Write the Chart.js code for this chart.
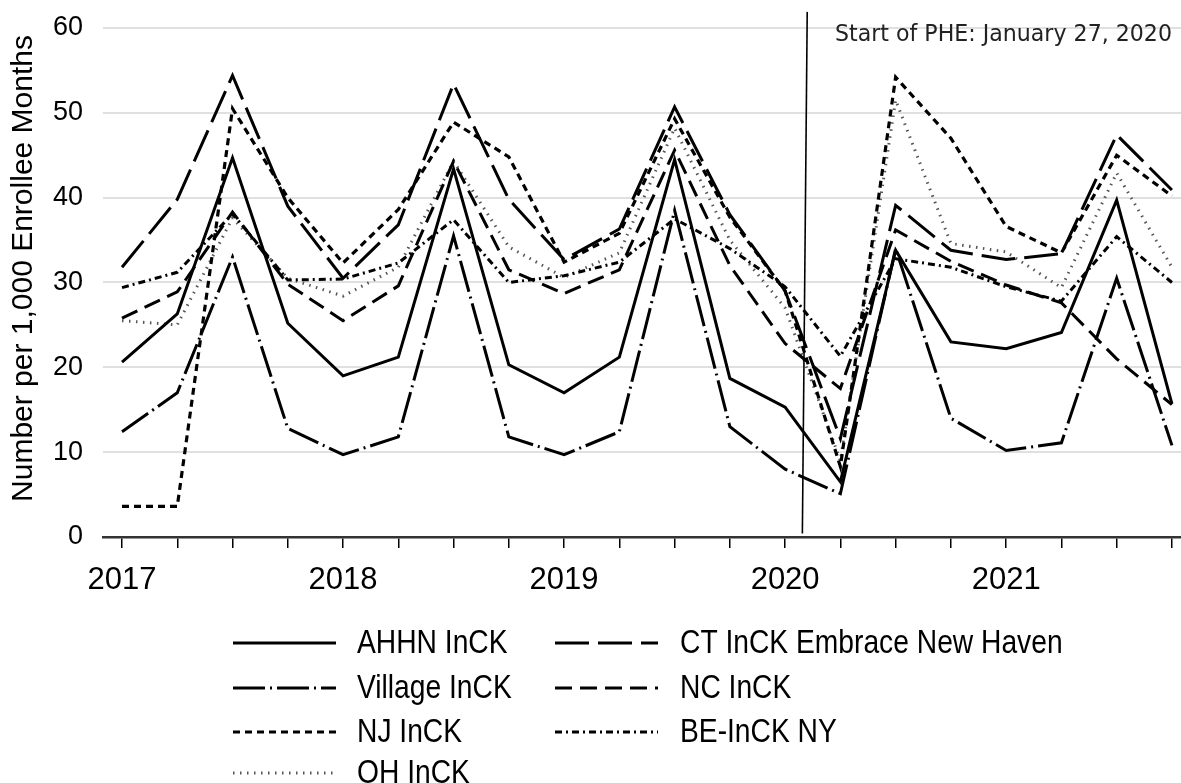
<!DOCTYPE html>
<html>
<head>
<meta charset="utf-8">
<script src="https://cdn.jsdelivr.net/npm/chart.js@4.4.1/dist/chart.umd.min.js"></script>
<style>
  html, body { margin: 0; padding: 0; background: #ffffff; }
  #wrap { position: relative; width: 1181px; height: 783px; }
</style>
</head>
<body>
<div id="wrap"><canvas id="c" width="1181" height="783"></canvas></div>
<script>
// ---- data ----
const periods = [2017.00, 2017.25, 2017.50, 2017.75, 2018.00, 2018.25, 2018.50, 2018.75,
                 2019.00, 2019.25, 2019.50, 2019.75, 2020.00, 2020.25, 2020.50, 2020.75,
                 2021.00, 2021.25, 2021.50, 2021.75];
const yearTicks = [2017, 2018, 2019, 2020, 2021];
const yTicks = [0, 10, 20, 30, 40, 50, 60];
const seriesNames = ["AHHN InCK", "CT InCK Embrace New Haven", "Village InCK", "NC InCK",
                     "NJ InCK", "BE-InCK NY", "OH InCK"];
const ahhn    = [20.6, 26.3, 44.7, 25.2, 19.0, 21.2, 43.4, 20.3, 17.0, 21.2, 44.5, 18.7, 15.3, 6.5, 33.8, 23.0, 22.2, 24.1, 39.7, 15.7];
const ct      = [31.8, 39.8, 54.4, 39.0, 30.5, 36.8, 53.4, 39.8, 32.7, 36.3, 50.7, 38.0, 29.0, 11.6, 39.1, 33.8, 32.7, 33.4, 47.4, 40.9];
const village = [12.4, 17.0, 33.0, 12.8, 9.7, 11.8, 35.5, 11.8, 9.7, 12.4, 38.5, 13.0, 8.0, 5.1, 34.0, 14.0, 10.2, 11.1, 30.5, 10.8];
const nc      = [25.8, 28.9, 38.3, 29.8, 25.5, 29.6, 44.3, 31.5, 28.7, 31.5, 45.6, 32.0, 22.8, 17.5, 36.2, 32.5, 29.7, 27.6, 21.0, 15.6];
const nj      = [3.6, 3.6, 50.5, 40.0, 32.3, 38.6, 48.9, 44.8, 32.4, 35.8, 49.3, 37.7, 29.0, 8.3, 54.2, 47.0, 36.6, 33.5, 45.0, 40.2];
const beNY    = [29.4, 31.2, 38.1, 30.3, 30.4, 32.3, 37.4, 30.0, 30.8, 32.4, 37.5, 34.0, 29.5, 21.3, 32.8, 31.8, 29.5, 27.8, 35.4, 30.0];
const oh      = [25.5, 25.0, 37.6, 30.5, 28.4, 31.8, 44.3, 34.2, 30.6, 33.5, 48.2, 35.0, 27.0, 9.0, 51.5, 34.6, 33.6, 29.4, 42.9, 31.8];
const pheDate = 2020.09;
const pheLabel = "Start of PHE: January 27, 2020";
const yTitle = "Number per 1,000 Enrollee Months";

// ---- styles ----
const styles = [
  { color: '#000', width: 3, dash: [] },
  { color: '#000', width: 3, dash: [34, 9] },
  { color: '#000', width: 3, dash: [32, 5, 2, 5] },
  { color: '#000', width: 3, dash: [17, 8] },
  { color: '#000', width: 3.2, dash: [7, 5] },
  { color: '#000', width: 3, dash: [7, 4, 2, 4] },
  { color: '#555', width: 3, dash: [1.5, 5.5] }
];
const allSeries = [ahhn, ct, village, nc, nj, beNY, oh];

const datasets = allSeries.map((vals, i) => ({
  label: seriesNames[i],
  data: vals.map((v, k) => ({ x: periods[k], y: v })),
  borderColor: styles[i].color,
  borderWidth: styles[i].width,
  borderDash: styles[i].dash,
  borderJoinStyle: 'miter',
  borderCapStyle: 'butt',
  pointRadius: 0,
  fill: false,
  tension: 0
}));

const extras = {
  id: 'extras',
  afterDatasetsDraw(chart) {
    const ctx = chart.ctx;
    const xs = chart.scales.x, ys = chart.scales.y;
    // PHE vertical line
    ctx.save();
    ctx.strokeStyle = '#000';
    ctx.lineWidth = 1.6;
    ctx.setLineDash([]);
    ctx.beginPath();
    ctx.moveTo(xs.getPixelForValue(pheDate + 0.01), ys.getPixelForValue(61.9));
    ctx.lineTo(xs.getPixelForValue(pheDate - 0.012), ys.getPixelForValue(0.4));
    ctx.stroke();
    // annotation
    ctx.fillStyle = '#222';
    ctx.font = '23px "DejaVu Sans", sans-serif';
    ctx.textAlign = 'right';
    ctx.textBaseline = 'alphabetic';
    const w = ctx.measureText(pheLabel).width;
    const target = 337;
    ctx.translate(1172, 41);
    ctx.scale(target / w, 1);
    ctx.fillText(pheLabel, 0, 0);
    ctx.restore();

    // legend
    ctx.save();
    const cols = [{ lx: 233, tx: 357 }, { lx: 555, tx: 680 }];
    const rows = [643, 688, 732, 773];
    seriesNames.forEach((name, i) => {
      const c = cols[i % 2];
      const y = rows[Math.floor(i / 2)];
      ctx.save();
      ctx.strokeStyle = styles[i].color;
      ctx.lineWidth = styles[i].width;
      ctx.setLineDash(styles[i].dash);
      ctx.lineCap = 'butt';
      ctx.beginPath();
      ctx.moveTo(c.lx, y);
      ctx.lineTo(c.lx + 103, y);
      ctx.stroke();
      ctx.restore();
      ctx.save();
      ctx.fillStyle = '#000';
      ctx.font = '33px "Liberation Sans", Arial, sans-serif';
      ctx.textBaseline = 'middle';
      ctx.textAlign = 'left';
      ctx.translate(c.tx, y + 1);
      ctx.scale(0.855, 1);
      ctx.fillText(name, 0, 0);
      ctx.restore();
    });
    ctx.restore();
  }
};

new Chart(document.getElementById('c'), {
  type: 'line',
  data: { datasets },
  options: {
    responsive: false,
    animation: false,
    layout: { padding: { top: 0, right: 0, bottom: 0, left: 0 } },
    plugins: { legend: { display: false }, tooltip: { enabled: false } },
    scales: {
      x: {
        type: 'linear',
        min: 2016.914,
        max: 2021.791,
        afterBuildTicks: (axis) => { axis.ticks = periods.map(v => ({ value: v })); },
        afterFit: (scale) => { scale.height = 246; scale.paddingLeft = 0; scale.paddingRight = 0; },
        ticks: {
          autoSkip: false,
          maxRotation: 0,
          padding: 14,
          color: '#000',
          font: { family: '"Liberation Sans", Arial, sans-serif', size: 31 },
          callback: (v) => (yearTicks.includes(v) ? String(v) : '')
        },
        grid: { drawOnChartArea: false, drawTicks: true, tickLength: 11, color: '#000', lineWidth: 1.5 },
        border: { display: true, color: '#333', width: 2.5 }
      },
      y: {
        min: 0,
        max: 63.3,
        afterBuildTicks: (axis) => { axis.ticks = yTicks.map(v => ({ value: v })); },
        afterFit: (scale) => { scale.width = 103; scale.paddingTop = 0; scale.paddingBottom = 0; },
        ticks: {
          padding: 20,
          color: '#000',
          font: { family: '"Liberation Sans", Arial, sans-serif', size: 27 }
        },
        grid: { drawTicks: false, color: '#e0e0e0', lineWidth: 2 },
        border: { display: false },
        title: {
          display: true,
          text: yTitle,
          color: '#000',
          padding: { top: 6, bottom: 0 },
          font: { family: '"Liberation Sans", Arial, sans-serif', size: 30 }
        }
      }
    }
  },
  plugins: [extras]
});
</script>
</body>
</html>
